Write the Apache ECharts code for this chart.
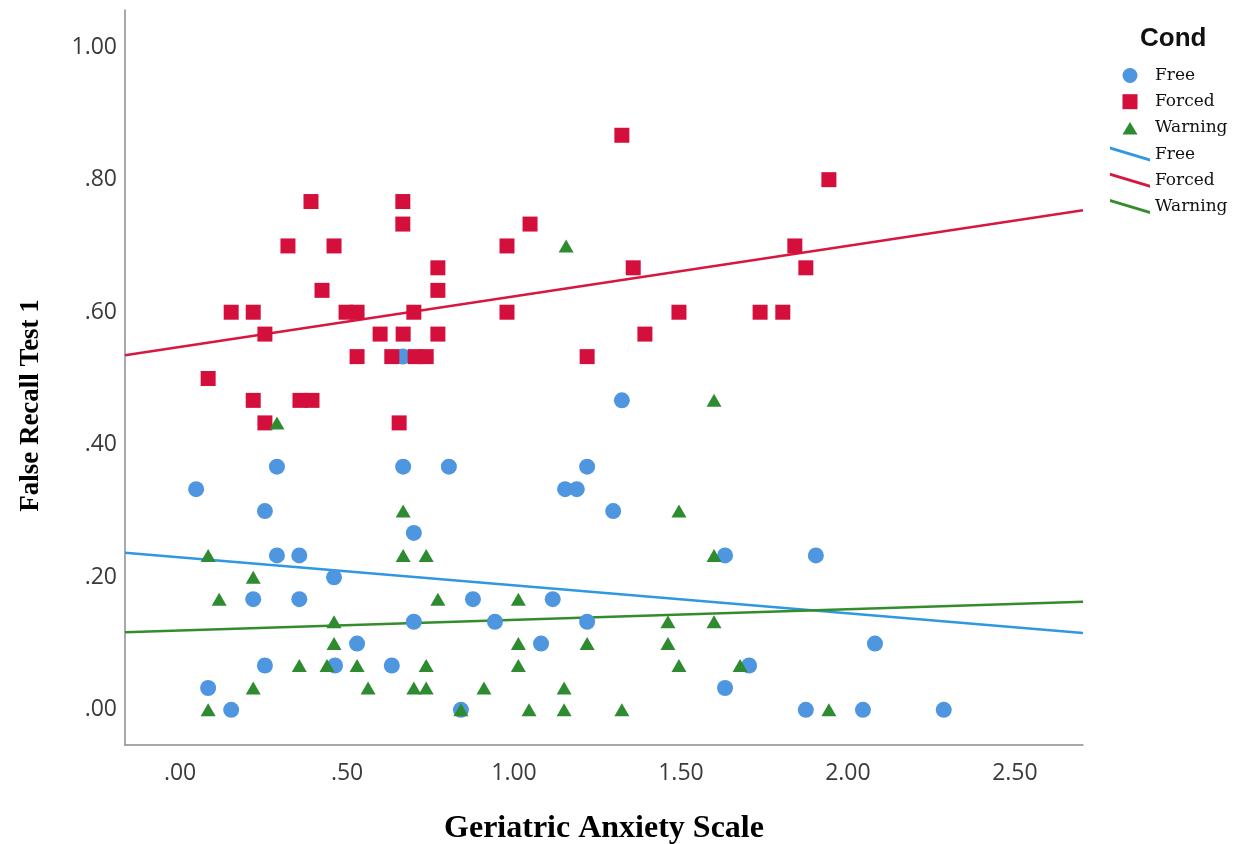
<!DOCTYPE html>
<html>
<head>
<meta charset="utf-8">
<script src="https://cdn.jsdelivr.net/npm/echarts@6/dist/echarts.min.js"></script>
<style>
  html, body { margin: 0; padding: 0; background: #fff; }
  #chart { width: 1247px; height: 844px; }
</style>
</head>
<body>
<div id="chart"></div>
<script>
// ---- Data ----
const freeX = [0.29,0.668,0.805,0.048,0.254,0.70,0.29,0.357,0.461,0.219,0.357,0.877,0.70,0.53,0.254,0.464,0.634,0.084,0.153,0.841,0.667,1.219,1.153,1.188,1.297,1.632,1.904,1.116,0.943,1.219,1.081,1.704,1.632,1.874,2.081,2.045,2.287,1.323];
const freeY = [0.367,0.367,0.367,0.333,0.30,0.267,0.233,0.233,0.20,0.167,0.167,0.167,0.133,0.10,0.067,0.067,0.067,0.033,0,0,0.533,0.367,0.333,0.333,0.30,0.233,0.233,0.167,0.133,0.133,0.10,0.067,0.033,0,0.10,0,0,0.467];

const forcedX = [0.392,0.667,0.667,0.323,0.461,0.772,0.772,0.425,0.153,0.219,0.497,0.530,0.70,0.254,0.599,0.668,0.772,0.530,0.634,0.704,0.737,0.084,0.219,0.359,0.395,0.254,0.656,1.323,1.048,0.979,1.841,1.357,1.874,0.979,1.494,1.737,1.805,1.392,1.219,1.943];
const forcedY = [0.767,0.767,0.733,0.70,0.70,0.667,0.633,0.633,0.60,0.60,0.60,0.60,0.60,0.567,0.567,0.567,0.567,0.533,0.533,0.533,0.533,0.50,0.467,0.467,0.467,0.433,0.433,0.867,0.733,0.70,0.70,0.667,0.667,0.60,0.60,0.60,0.60,0.567,0.533,0.80];

const warnX = [0.668,0.084,0.668,0.737,0.219,0.117,0.772,0.461,0.461,0.357,0.44,0.53,0.737,0.219,0.563,0.70,0.737,0.084,0.841,0.29,1.494,1.599,1.013,1.461,1.599,1.013,1.219,1.461,1.013,1.494,1.677,0.91,1.15,1.045,1.15,1.323,1.156,1.599,1.943];
const warnY = [0.30,0.233,0.233,0.233,0.20,0.167,0.167,0.133,0.10,0.067,0.067,0.067,0.067,0.033,0.033,0.033,0.033,0,0,0.433,0.30,0.233,0.167,0.133,0.133,0.10,0.10,0.10,0.067,0.067,0.067,0.033,0.033,0,0,0,0.70,0.467,0];

// fit lines: y at the left and right ends of the x range
const fitXRange = [-0.165, 2.704];
const fitFree = [0.237, 0.116];
const fitForced = [0.535, 0.754];
const fitWarning = [0.117, 0.163];

const xTicks = [0, 0.5, 1, 1.5, 2, 2.5];
const yTicks = [0, 0.2, 0.4, 0.6, 0.8, 1.0];
const yRange = [-0.053, 1.056];

const groupNames = ['Free', 'Forced', 'Warning'];

// ---- Styling ----
const C_BLUE = '#4F96E0', C_BLUE_L = '#2E98E2';
const C_RED = '#D50F3C', C_RED_L = '#D8173F';
const C_GREEN = '#2E8B30', C_GREEN_L = '#358C2C';

function pairs(xs, ys) { return xs.map((x, i) => [x, ys[i]]); }
function fitLine(f) { return [[fitXRange[0], f[0]], [fitXRange[1], f[1]]]; }
function fmt(v) { return v.toFixed(2).replace(/^0/, ''); }

// legend icons (40x15 box; leading moveTos fix the bounding box)
const lineIcon = 'path://M0,0 L40,12 L40,15 L0,3 Z';
const squareIcon = 'path://M0,0 M40,15 M12.5,0 L27.5,0 L27.5,15 L12.5,15 Z';
const triIcon = 'path://M0,0 M40,15 M12.5,14 L20,1.5 L27.5,14 Z';

const chart = echarts.init(document.getElementById('chart'), null, { renderer: 'canvas' });

const option = {
  backgroundColor: '#ffffff',
  animation: false,
  title: {
    text: 'Cond',
    left: 1135, top: 21,
    textStyle: { fontFamily: 'Liberation Sans', fontWeight: 'bold', fontSize: 26, color: '#111' }
  },
  legend: {
    orient: 'vertical',
    left: 1110, top: 67,
    padding: 0,
    itemWidth: 40, itemHeight: 15, itemGap: 9.2,
    itemTextGap: 5,
    selectedMode: false,
    textStyle: { fontFamily: 'DejaVu Serif', fontSize: 17, color: '#111', lineHeight: 17 },
    data: [
      { name: groupNames[0], icon: 'circle' },
      { name: groupNames[1], icon: squareIcon },
      { name: groupNames[2], icon: triIcon },
      { name: groupNames[0] + ' ', icon: lineIcon },
      { name: groupNames[1] + ' ', icon: lineIcon },
      { name: groupNames[2] + ' ', icon: lineIcon }
    ]
  },
  grid: { left: 125, right: 164, top: 10, bottom: 99, containLabel: false, outerBoundsMode: 'none' },
  xAxis: {
    type: 'value',
    min: fitXRange[0], max: fitXRange[1],
    name: 'Geriatric Anxiety Scale',
    nameLocation: 'middle', nameGap: 68,
    nameTextStyle: { fontFamily: 'Liberation Serif', fontWeight: 'bold', fontSize: 32, color: '#000' },
    axisLine: { show: true, onZero: false, lineStyle: { color: '#8c8c8c', width: 1.5 } },
    axisTick: { show: false },
    splitLine: { show: false },
    axisLabel: {
      customValues: xTicks, formatter: fmt, margin: 17,
      fontFamily: 'Open Sans', fontSize: 23, color: '#3a3a3a'
    }
  },
  yAxis: {
    type: 'value',
    min: yRange[0], max: yRange[1],
    name: 'False Recall Test 1',
    nameLocation: 'middle', nameGap: 80,
    nameTextStyle: { fontFamily: 'Liberation Serif', fontWeight: 'bold', fontSize: 27, color: '#000', padding: [0, 56, 0, 0] },
    axisLine: { show: true, onZero: false, lineStyle: { color: '#8c8c8c', width: 1.5 } },
    axisTick: { show: false },
    splitLine: { show: false },
    axisLabel: {
      customValues: yTicks, formatter: fmt, margin: 8,
      fontFamily: 'Open Sans', fontSize: 23, color: '#3a3a3a'
    }
  },
  series: [
    { name: groupNames[0] + ' ', type: 'line', data: fitLine(fitFree), symbol: 'none', z: 1,
      lineStyle: { color: C_BLUE_L, width: 2.5 }, itemStyle: { color: C_BLUE_L } },
    { name: groupNames[1] + ' ', type: 'line', data: fitLine(fitForced), symbol: 'none', z: 1,
      lineStyle: { color: C_RED_L, width: 2.5 }, itemStyle: { color: C_RED_L } },
    { name: groupNames[2] + ' ', type: 'line', data: fitLine(fitWarning), symbol: 'none', z: 1,
      lineStyle: { color: C_GREEN_L, width: 2.5 }, itemStyle: { color: C_GREEN_L } },
    { name: groupNames[0], type: 'scatter', data: pairs(freeX, freeY), symbol: 'circle', symbolSize: 16, z: 3,
      itemStyle: { color: C_BLUE, opacity: 1 } },
    { name: groupNames[1], type: 'scatter', data: pairs(forcedX, forcedY), symbol: 'rect', symbolSize: 15, z: 4,
      itemStyle: { color: C_RED, opacity: 1 } },
    { name: groupNames[2], type: 'scatter', data: pairs(warnX, warnY), symbol: 'triangle', symbolSize: [15, 13], z: 5,
      itemStyle: { color: C_GREEN, opacity: 1 } }
  ]
};

chart.setOption(option);
</script>
</body>
</html>
